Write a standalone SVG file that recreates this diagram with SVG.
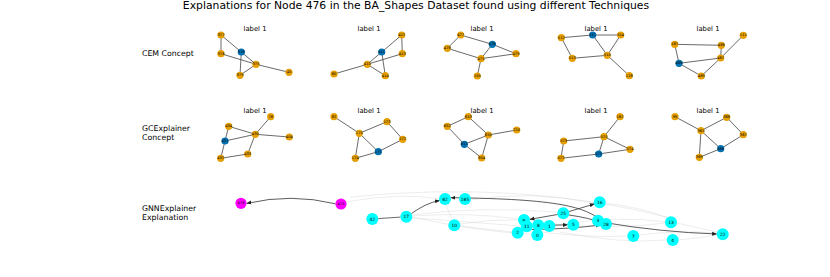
<svg xmlns="http://www.w3.org/2000/svg" width="830" height="277" viewBox="0 0 830 277">
<style>
text{font-family:"DejaVu Sans",sans-serif;fill:#000}
.t{font-size:10.8px;text-anchor:middle}
.rl{font-size:7.8px}
.pl{font-size:6.8px;text-anchor:middle}
.nl{font-size:3.6px;text-anchor:middle;dominant-baseline:central}
.cl{font-size:4.4px;text-anchor:middle;dominant-baseline:central}
.o{fill:#e69f00}
.b{fill:#0072b2}
.c{fill:#00ffff}
.m{fill:#ff00ff}
.e{stroke:#444;stroke-width:0.8;fill:none}
.g{stroke:#ccc;stroke-width:0.5;fill:none;opacity:0.7}
.a{stroke:#333;stroke-width:0.8;fill:none;marker-end:url(#ah)}
</style>
<defs>
<marker id="ah" viewBox="0 0 10 10" refX="9" refY="5" markerWidth="5" markerHeight="5" orient="auto" markerUnits="userSpaceOnUse">
<path d="M0,1 L10,5 L0,9 Z" fill="#222"/>
</marker>
</defs>
<rect width="830" height="277" fill="#fff"/>
<text class="t" x="416" y="9">Explanations for Node 476 in the BA_Shapes Dataset found using different Techniques</text>
<g id="row-labels">
<text class="rl" x="142" y="55.5">CEM Concept</text>
<text class="rl" x="142" y="131">GCExplainer</text>
<text class="rl" x="142" y="139.5">Concept</text>
<text class="rl" x="142" y="211">GNNExplainer</text>
<text class="rl" x="142" y="219.5">Explanation</text>
</g>
<g id="panel-titles">
<text class="pl" x="255" y="31">label 1</text>
<text class="pl" x="369" y="31">label 1</text>
<text class="pl" x="482" y="31">label 1</text>
<text class="pl" x="596" y="31">label 1</text>
<text class="pl" x="708" y="31">label 1</text>
<text class="pl" x="255" y="113">label 1</text>
<text class="pl" x="369" y="113">label 1</text>
<text class="pl" x="482" y="113">label 1</text>
<text class="pl" x="596" y="113">label 1</text>
<text class="pl" x="708" y="113">label 1</text>
</g>
<g id="connectors">
<path class="e" d="M221,35 L221,53.7 M221,35 L241.3,52 M221,53.7 L256,64.3 M241.3,52 L256,64.3 M241.3,52 L240,75.3 M256,64.3 L240,75.3 M256,64.3 L289,72.3"/>
<path class="e" d="M401.7,35 L381.7,52 M401.7,35 L402.3,53.7 M381.7,52 L367.3,64.3 M381.7,52 L385.3,75.7 M367.3,64.3 L402.3,53.7 M367.3,64.3 L385.3,75.7 M367.3,64.3 L334,74"/>
<path class="e" d="M460.7,35 L447.3,48.3 M460.7,35 L492.3,44.3 M447.3,48.3 L481,58.7 M492.3,44.3 L481,58.7 M492.3,44.3 L516,53.7 M481,58.7 L516,53.7 M481,58.7 L477.3,76"/>
<path class="e" d="M561.3,37.7 L592.7,35 M592.7,35 L620.7,35 M561.3,37.7 L572.3,58.3 M592.7,35 L607.3,55.3 M620.7,35 L607.3,55.3 M572.3,58.3 L607.3,55.3 M607.3,55.3 L629.3,75.7"/>
<path class="e" d="M674.7,44.3 L721.3,45.3 M674.7,44.3 L679,63.3 M679,63.3 L720.7,58 M679,63.3 L701.3,76 M701.3,76 L720.7,58 M721.3,45.3 L720.7,58 M720.7,58 L743.3,35.3"/>
<path class="e" d="M255.3,134.3 L270.7,116.7 M228.7,126.3 L255.3,134.3 M228.7,126.3 L225,141 M225,141 L255.3,134.3 M255.3,134.3 L289.3,137 M255.3,134.3 L247.7,154 M225,141 L220.7,158.3 M220.7,158.3 L247.7,154"/>
<path class="e" d="M334,116.7 L359.3,133.3 M359.3,133.3 L387,121.7 M387,121.7 L402.7,139.3 M402.7,139.3 L378.3,151.7 M359.3,133.3 L378.3,151.7 M359.3,133.3 L355.3,158.3 M355.3,158.3 L378.3,151.7"/>
<path class="e" d="M468.3,116.7 L447.3,126.3 M468.3,116.7 L488.3,135 M447.3,126.3 L464.3,144.3 M464.3,144.3 L488.3,135 M464.3,144.3 L481.7,158 M488.3,135 L481.7,158 M488.3,135 L516.7,130"/>
<path class="e" d="M620,116.7 L604,136.7 M563.7,141 L604,136.7 M604,136.7 L598.7,154 M604,136.7 L630,149.3 M563.7,141 L561,158.3 M561,158.3 L598.7,154 M598.7,154 L630,149.3"/>
<path class="e" d="M675,116.7 L701,130.7 M701,130.7 L726.7,117.3 M726.7,117.3 L743.3,134.7 M743.3,134.7 L720.7,148.7 M701,130.7 L720.7,148.7 M701,130.7 L699.3,157.3 M699.3,157.3 L720.7,148.7"/>
<path class="g" d="M346,202 Q400,192 440,199"/>
<path class="g" d="M350,197 Q520,180 667,217"/>
<path class="g" d="M412,216 Q470,212 518,219"/>
<path class="g" d="M412,218 Q470,222 520,226"/>
<path class="g" d="M412,217 Q480,232 531,234"/>
<path class="g" d="M412,215 Q480,206 557,212"/>
<path class="g" d="M460,224 Q490,219 518,220"/>
<path class="g" d="M460,226 L512,232"/>
<path class="g" d="M446,205 L452,219"/>
<path class="g" d="M555,225 Q620,215 665,222"/>
<path class="g" d="M580,226 Q630,228 665,223"/>
<path class="g" d="M540,232 Q590,238 627,236"/>
<path class="g" d="M560,232 Q620,244 667,240"/>
<path class="g" d="M605,203 Q645,208 667,218"/>
<path class="g" d="M639,235 Q680,230 717,233"/>
<path class="g" d="M678,240 Q700,238 717,235"/>
<path class="g" d="M677,223 L717,232"/>
<path class="g" d="M470,200 Q530,190 594,203"/>
<path class="a" d="M335.5,203.8 Q291,193 246.8,203.4"/>
<path class="e" d="M378.2,218.6 L400.4,217.1"/>
<path class="a" d="M411.5,213.5 Q426,203 439.5,200.5"/>
<path class="a" d="M602,221 C585,207 560,199 451,197.7"/>
<path class="a" d="M568.8,211.6 L594.3,204"/>
<path class="a" d="M557.5,214.5 L530,219.3"/>
<path class="a" d="M569,215 Q590,218 600.5,222.5"/>
<path class="a" d="M604,222.5 Q660,232 716.6,234"/>
<path class="a" d="M544,225.4 L567.4,224.8"/>
<path class="a" d="M532,229.5 Q570,229 600,225"/>
</g>
<g id="n-a377"><circle class="o" cx="221" cy="35" r="3.6"/><text class="nl" x="221" y="35">377</text></g>
<g id="n-a376"><circle class="o" cx="221" cy="53.7" r="3.6"/><text class="nl" x="221" y="53.7">376</text></g>
<g id="n-a378"><circle class="b" cx="241.3" cy="52" r="3.6"/><text class="nl" x="241.3" y="52">378</text></g>
<g id="n-a375"><circle class="o" cx="256" cy="64.3" r="3.6"/><text class="nl" x="256" y="64.3">375</text></g>
<g id="n-a379"><circle class="o" cx="240" cy="75.3" r="3.6"/><text class="nl" x="240" y="75.3">379</text></g>
<g id="n-a45"><circle class="o" cx="289" cy="72.3" r="3.6"/><text class="nl" x="289" y="72.3">45</text></g>
<g id="n-b412"><circle class="o" cx="401.7" cy="35" r="3.6"/><text class="nl" x="401.7" y="35">412</text></g>
<g id="n-b411"><circle class="b" cx="381.7" cy="52" r="3.6"/><text class="nl" x="381.7" y="52">411</text></g>
<g id="n-b413"><circle class="o" cx="402.3" cy="53.7" r="3.6"/><text class="nl" x="402.3" y="53.7">413</text></g>
<g id="n-b410"><circle class="o" cx="367.3" cy="64.3" r="3.6"/><text class="nl" x="367.3" y="64.3">410</text></g>
<g id="n-b414"><circle class="o" cx="385.3" cy="75.7" r="3.6"/><text class="nl" x="385.3" y="75.7">414</text></g>
<g id="n-b60"><circle class="o" cx="334" cy="74" r="3.6"/><text class="nl" x="334" y="74">60</text></g>
<g id="n-c477"><circle class="o" cx="460.7" cy="35" r="3.6"/><text class="nl" x="460.7" y="35">477</text></g>
<g id="n-c478"><circle class="o" cx="447.3" cy="48.3" r="3.6"/><text class="nl" x="447.3" y="48.3">478</text></g>
<g id="n-c476"><circle class="b" cx="492.3" cy="44.3" r="3.6"/><text class="nl" x="492.3" y="44.3">476</text></g>
<g id="n-c479"><circle class="o" cx="516" cy="53.7" r="3.6"/><text class="nl" x="516" y="53.7">479</text></g>
<g id="n-c475"><circle class="o" cx="481" cy="58.7" r="3.6"/><text class="nl" x="481" y="58.7">475</text></g>
<g id="n-c105"><circle class="o" cx="477.3" cy="76" r="3.6"/><text class="nl" x="477.3" y="76">105</text></g>
<g id="n-d512"><circle class="o" cx="561.3" cy="37.7" r="3.6"/><text class="nl" x="561.3" y="37.7">512</text></g>
<g id="n-d511"><circle class="b" cx="592.7" cy="35" r="3.6"/><text class="nl" x="592.7" y="35">511</text></g>
<g id="n-d514"><circle class="o" cx="620.7" cy="35" r="3.6"/><text class="nl" x="620.7" y="35">514</text></g>
<g id="n-d513"><circle class="o" cx="572.3" cy="58.3" r="3.6"/><text class="nl" x="572.3" y="58.3">513</text></g>
<g id="n-d510"><circle class="o" cx="607.3" cy="55.3" r="3.6"/><text class="nl" x="607.3" y="55.3">510</text></g>
<g id="n-d128"><circle class="o" cx="629.3" cy="75.7" r="3.6"/><text class="nl" x="629.3" y="75.7">128</text></g>
<g id="n-e187"><circle class="o" cx="674.7" cy="44.3" r="3.6"/><text class="nl" x="674.7" y="44.3">187</text></g>
<g id="n-e486"><circle class="o" cx="721.3" cy="45.3" r="3.6"/><text class="nl" x="721.3" y="45.3">486</text></g>
<g id="n-e111"><circle class="o" cx="743.3" cy="35.3" r="3.6"/><text class="nl" x="743.3" y="35.3">111</text></g>
<g id="n-e487"><circle class="o" cx="720.7" cy="58" r="3.6"/><text class="nl" x="720.7" y="58">487</text></g>
<g id="n-e488"><circle class="b" cx="679" cy="63.3" r="3.6"/><text class="nl" x="679" y="63.3">488</text></g>
<g id="n-e489"><circle class="o" cx="701.3" cy="76" r="3.6"/><text class="nl" x="701.3" y="76">489</text></g>
<g id="n-f78"><circle class="o" cx="270.7" cy="116.7" r="3.6"/><text class="nl" x="270.7" y="116.7">78</text></g>
<g id="n-f434"><circle class="o" cx="228.7" cy="126.3" r="3.6"/><text class="nl" x="228.7" y="126.3">434</text></g>
<g id="n-f430"><circle class="o" cx="255.3" cy="134.3" r="3.6"/><text class="nl" x="255.3" y="134.3">430</text></g>
<g id="n-f404"><circle class="o" cx="289.3" cy="137" r="3.6"/><text class="nl" x="289.3" y="137">404</text></g>
<g id="n-f431"><circle class="b" cx="225" cy="141" r="3.6"/><text class="nl" x="225" y="141">431</text></g>
<g id="n-f433"><circle class="o" cx="247.7" cy="154" r="3.6"/><text class="nl" x="247.7" y="154">433</text></g>
<g id="n-f432"><circle class="o" cx="220.7" cy="158.3" r="3.6"/><text class="nl" x="220.7" y="158.3">432</text></g>
<g id="n-g82"><circle class="o" cx="334" cy="116.7" r="3.6"/><text class="nl" x="334" y="116.7">82</text></g>
<g id="n-g173"><circle class="o" cx="387" cy="121.7" r="3.6"/><text class="nl" x="387" y="121.7">173</text></g>
<g id="n-g175"><circle class="o" cx="359.3" cy="133.3" r="3.6"/><text class="nl" x="359.3" y="133.3">175</text></g>
<g id="n-g172"><circle class="o" cx="402.7" cy="139.3" r="3.6"/><text class="nl" x="402.7" y="139.3">172</text></g>
<g id="n-g171"><circle class="b" cx="378.3" cy="151.7" r="3.6"/><text class="nl" x="378.3" y="151.7">171</text></g>
<g id="n-g174"><circle class="o" cx="355.3" cy="158.3" r="3.6"/><text class="nl" x="355.3" y="158.3">174</text></g>
<g id="n-h653"><circle class="o" cx="468.3" cy="116.7" r="3.6"/><text class="nl" x="468.3" y="116.7">653</text></g>
<g id="n-h652"><circle class="o" cx="447.3" cy="126.3" r="3.6"/><text class="nl" x="447.3" y="126.3">652</text></g>
<g id="n-h650"><circle class="o" cx="488.3" cy="135" r="3.6"/><text class="nl" x="488.3" y="135">650</text></g>
<g id="n-h210"><circle class="o" cx="516.7" cy="130" r="3.6"/><text class="nl" x="516.7" y="130">210</text></g>
<g id="n-h651"><circle class="b" cx="464.3" cy="144.3" r="3.6"/><text class="nl" x="464.3" y="144.3">651</text></g>
<g id="n-h654"><circle class="o" cx="481.7" cy="158" r="3.6"/><text class="nl" x="481.7" y="158">654</text></g>
<g id="n-i182"><circle class="o" cx="620" cy="116.7" r="3.6"/><text class="nl" x="620" y="116.7">182</text></g>
<g id="n-i570"><circle class="o" cx="604" cy="136.7" r="3.6"/><text class="nl" x="604" y="136.7">570</text></g>
<g id="n-i573"><circle class="o" cx="563.7" cy="141" r="3.6"/><text class="nl" x="563.7" y="141">573</text></g>
<g id="n-i574"><circle class="o" cx="630" cy="149.3" r="3.6"/><text class="nl" x="630" y="149.3">574</text></g>
<g id="n-i571"><circle class="b" cx="598.7" cy="154" r="3.6"/><text class="nl" x="598.7" y="154">571</text></g>
<g id="n-i572"><circle class="o" cx="561" cy="158.3" r="3.6"/><text class="nl" x="561" y="158.3">572</text></g>
<g id="n-j99"><circle class="o" cx="675" cy="116.7" r="3.6"/><text class="nl" x="675" y="116.7">99</text></g>
<g id="n-j368"><circle class="o" cx="726.7" cy="117.3" r="3.6"/><text class="nl" x="726.7" y="117.3">368</text></g>
<g id="n-j365"><circle class="o" cx="701" cy="130.7" r="3.6"/><text class="nl" x="701" y="130.7">365</text></g>
<g id="n-j367"><circle class="o" cx="743.3" cy="134.7" r="3.6"/><text class="nl" x="743.3" y="134.7">367</text></g>
<g id="n-j366"><circle class="b" cx="720.7" cy="148.7" r="3.6"/><text class="nl" x="720.7" y="148.7">366</text></g>
<g id="n-j369"><circle class="o" cx="699.3" cy="157.3" r="3.6"/><text class="nl" x="699.3" y="157.3">369</text></g>
<g id="n-476"><circle class="m" cx="241" cy="203.3" r="5.6"/><text class="nl" x="241" y="203.3">476</text></g>
<g id="n-475"><circle class="m" cx="341" cy="204" r="5.6"/><text class="nl" x="341" y="204">475</text></g>
<g id="n-42"><circle class="c" cx="372.3" cy="219" r="6"/><text class="cl" x="372.3" y="219">42</text></g>
<g id="n-17"><circle class="c" cx="406.3" cy="216.7" r="6"/><text class="cl" x="406.3" y="216.7">17</text></g>
<g id="n-82"><circle class="c" cx="445" cy="199" r="6"/><text class="cl" x="445" y="199">82</text></g>
<g id="n-185"><circle class="c" cx="465" cy="199" r="6"/><text class="cl" x="465" y="199">185</text></g>
<g id="n-10"><circle class="c" cx="454.3" cy="225.3" r="6"/><text class="cl" x="454.3" y="225.3">10</text></g>
<g id="n-16"><circle class="c" cx="599.7" cy="202.3" r="6"/><text class="cl" x="599.7" y="202.3">16</text></g>
<g id="n-25"><circle class="c" cx="563.3" cy="213.3" r="6"/><text class="cl" x="563.3" y="213.3">25</text></g>
<g id="n-9"><circle class="c" cx="524" cy="220" r="6"/><text class="cl" x="524" y="220">9</text></g>
<g id="n-2"><circle class="c" cx="517.7" cy="232.7" r="6"/><text class="cl" x="517.7" y="232.7">2</text></g>
<g id="n-11"><circle class="c" cx="526.7" cy="226.3" r="6"/><text class="cl" x="526.7" y="226.3">11</text></g>
<g id="n-0"><circle class="c" cx="537.3" cy="235" r="6"/><text class="cl" x="537.3" y="235">0</text></g>
<g id="n-8"><circle class="c" cx="538.3" cy="225.3" r="6"/><text class="cl" x="538.3" y="225.3">8</text></g>
<g id="n-1"><circle class="c" cx="549.3" cy="226" r="6"/><text class="cl" x="549.3" y="226">1</text></g>
<g id="n-5"><circle class="c" cx="573.3" cy="224.7" r="6"/><text class="cl" x="573.3" y="224.7">5</text></g>
<g id="n-3"><circle class="c" cx="598" cy="220.7" r="6"/><text class="cl" x="598" y="220.7">3</text></g>
<g id="n-28"><circle class="c" cx="606" cy="224" r="6"/><text class="cl" x="606" y="224">28</text></g>
<g id="n-13"><circle class="c" cx="671" cy="222.3" r="6"/><text class="cl" x="671" y="222.3">13</text></g>
<g id="n-7"><circle class="c" cx="633.3" cy="236" r="6"/><text class="cl" x="633.3" y="236">7</text></g>
<g id="n-4"><circle class="c" cx="672.7" cy="240" r="6"/><text class="cl" x="672.7" y="240">4</text></g>
<g id="n-22"><circle class="c" cx="722.7" cy="234.3" r="6"/><text class="cl" x="722.7" y="234.3">22</text></g>
</svg>
